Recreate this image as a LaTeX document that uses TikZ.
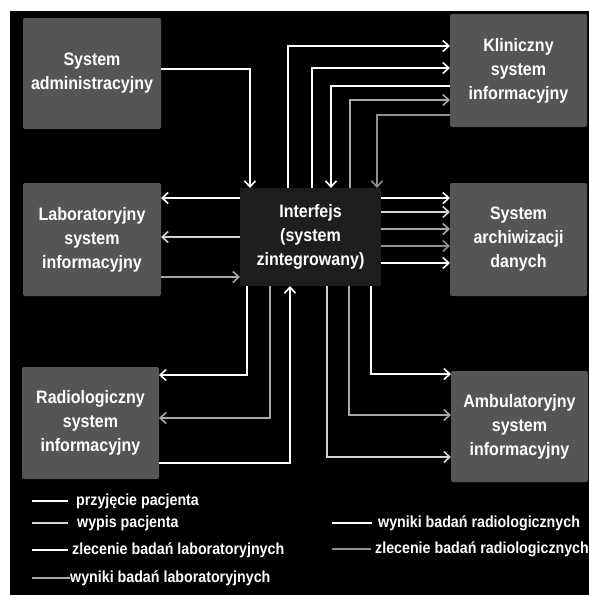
\documentclass[tikz,border=0pt]{standalone}
\usepackage{fontspec}
\setmainfont{Liberation Sans}
\newfontfamily\condfont{Liberation Sans}[FakeStretch=0.89]
\usetikzlibrary{arrows.meta}
\definecolor{boxgray}{HTML}{555555}
\definecolor{hubgray}{HTML}{1E1E1E}
\definecolor{flowA}{HTML}{FFFFFF}
\definecolor{flowB}{HTML}{D4D4D4}
\definecolor{flowC}{HTML}{A8A8A8}
\definecolor{flowD}{HTML}{8E8E8E}

\begin{document}
\begin{tikzpicture}[x=1pt,y=-1pt,
  sysbox/.style={fill=boxgray, rounded corners=2pt, text=white, align=center,
    font=\condfont\fontsize{18}{24}\selectfont\bfseries, inner sep=0pt, outer sep=0pt,
    minimum width=137pt, minimum height=112pt},
  hub/.style={sysbox, fill=hubgray, rounded corners=0pt,
    minimum width=141pt, minimum height=98pt},
  flow/.style={line width=1.8pt,
    -{Straight Barb[length=6pt,width=11pt,line width=1.6pt]}},
  sample/.style={line width=1.8pt},
  legend/.style={anchor=west, text=white, inner sep=0pt,
    font=\condfont\fontsize{16}{18}\selectfont\bfseries}
]
\useasboundingbox (0,0) rectangle (589,595);
\fill[white] (0,0) rectangle (589,595);
\fill[black] (10,11) rectangle (589,595);

% systems
\node[sysbox, minimum width=138pt, minimum height=111pt] (adm) at (92,73.5) {System\\administracyjny};
\node[sysbox, minimum height=113pt] (kli) at (518.5,70.5) {Kliniczny\\system\\informacyjny};
\node[sysbox, minimum width=138pt, minimum height=113pt] (lab) at (92,239.5) {Laboratoryjny\\system\\informacyjny};
\node[sysbox, minimum height=113pt] (arc) at (518.5,239.5) {System\\archiwizacji\\danych};
\node[sysbox] (rad) at (90.5,423) {Radiologiczny\\system\\informacyjny};
\node[sysbox, minimum height=111pt] (amb) at (519.5,426.5) {Ambulatoryjny\\system\\informacyjny};
\node[hub] (int) at (310.5,237) {Interfejs\\(system\\zintegrowany)};

% bend points of the routed connectors
\coordinate (c1) at (250,69);
\coordinate (t1) at (288,46);
\coordinate (t2) at (312,68);
\coordinate (t3) at (331,86);
\coordinate (t4) at (350,100);
\coordinate (t5) at (377,115);
\coordinate (b1) at (247,375);
\coordinate (b2) at (270,418);
\coordinate (b3) at (290,463);
\coordinate (b4) at (371,374);
\coordinate (b5) at (349,415);
\coordinate (b6) at (327,457);
\coordinate (l1) at (0,198);
\coordinate (l2) at (0,237);
\coordinate (l3) at (0,277);
\coordinate (a1) at (0,198);
\coordinate (a2) at (0,212);
\coordinate (a3) at (0,229);
\coordinate (a4) at (0,246);
\coordinate (a5) at (0,263);

% administration -> interface
\draw[flow, flowA] (adm.east |- c1) -| (int.north -| c1);

% interface <-> clinical system
\draw[flow, flowA] (int.north -| t1) |- (kli.west |- t1);
\draw[flow, flowA] (int.north -| t2) |- (kli.west |- t2);
\draw[flow, flowA] (kli.west |- t3) -| (int.north -| t3);
\draw[flow, flowC] (int.north -| t4) |- (kli.west |- t4);
\draw[flow, flowD] (kli.west |- t5) -| (int.north -| t5);

% interface <-> laboratory system
\draw[flow, flowA] (int.west |- l1) -- (lab.east |- l1);
\draw[flow, flowB] (int.west |- l2) -- (lab.east |- l2);
\draw[flow, flowC] (lab.east |- l3) -- (int.west |- l3);

% interface -> archive
\draw[flow, flowA] (int.east |- a1) -- (arc.west |- a1);
\draw[flow, flowB] (int.east |- a2) -- (arc.west |- a2);
\draw[flow, flowC] (int.east |- a3) -- (arc.west |- a3);
\draw[flow, flowD] (int.east |- a4) -- (arc.west |- a4);
\draw[flow, flowA] (int.east |- a5) -- (arc.west |- a5);

% interface <-> radiology system
\draw[flow, flowA] (int.south -| b1) |- (rad.east |- b1);
\draw[flow, flowC] (int.south -| b2) |- (rad.east |- b2);
\draw[flow, flowA] (rad.east |- b3) -| (int.south -| b3);

% interface -> outpatient system
\draw[flow, flowA] (int.south -| b4) |- (amb.west |- b4);
\draw[flow, flowC] (int.south -| b5) |- (amb.west |- b5);
\draw[flow, flowB] (int.south -| b6) |- (amb.west |- b6);

% legend
\node[legend] (g1) at (76,501) {przyjęcie pacjenta};
\node[legend] (g2) at (77,523) {wypis pacjenta};
\node[legend] (g3) at (72,550) {zlecenie badań laboratoryjnych};
\node[legend] (g4) at (70,578) {wyniki badań laboratoryjnych};
\node[legend] (g5) at (378,523) {wyniki badań radiologicznych};
\node[legend] (g6) at (375,549) {zlecenie badań radiologicznych};
\draw[sample, flowA] (g1.west) ++(-8,0) -- ++(-36,0);
\draw[sample, flowB] (g2.west) ++(-9,0) -- ++(-36,0);
\draw[sample, flowA] (g3.west) ++(-4,0) -- ++(-36,0);
\draw[sample, flowC] (g4.west) ++(0,0) -- ++(-38,0);
\draw[sample, flowA] (g5.west) ++(-6,0) -- ++(-40,0);
\draw[sample, flowD] (g6.west) ++(-4,0) -- ++(-39,0);
\end{tikzpicture}
\end{document}
